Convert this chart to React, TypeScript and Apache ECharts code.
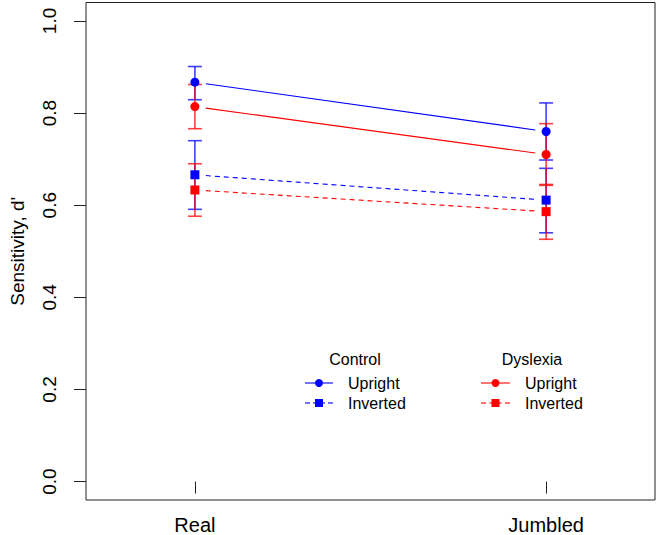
import React, { useEffect, useRef } from "react";
import * as echarts from "echarts";

const categories = ["Real", "Jumbled"];
const categoryX = [1, 2];
const yTicks = [0, 0.2, 0.4, 0.6, 0.8, 1.0];

const controlUpright = [0.867, 0.76];
const controlUprightLo = [0.829, 0.698];
const controlUprightHi = [0.901, 0.822];

const dyslexiaUpright = [0.814, 0.71];
const dyslexiaUprightLo = [0.766, 0.643];
const dyslexiaUprightHi = [0.862, 0.777];

const controlInverted = [0.666, 0.611];
const controlInvertedLo = [0.591, 0.54];
const controlInvertedHi = [0.74, 0.68];

const dyslexiaInverted = [0.633, 0.586];
const dyslexiaInvertedLo = [0.576, 0.526];
const dyslexiaInvertedHi = [0.69, 0.645];

const BLUE = "#0000FF";
const RED = "#FF0000";
const FONT = "'Liberation Sans', Arial, sans-serif";

type Group = {
  name: string;
  mean: number[];
  lo: number[];
  hi: number[];
  color: string;
  symbol: string;
  dashed: boolean;
};

const groups: Group[] = [
  { name: "Control Upright", mean: controlUpright, lo: controlUprightLo, hi: controlUprightHi, color: BLUE, symbol: "circle", dashed: false },
  { name: "Control Inverted", mean: controlInverted, lo: controlInvertedLo, hi: controlInvertedHi, color: BLUE, symbol: "rect", dashed: true },
  { name: "Dyslexia Upright", mean: dyslexiaUpright, lo: dyslexiaUprightLo, hi: dyslexiaUprightHi, color: RED, symbol: "circle", dashed: false },
  { name: "Dyslexia Inverted", mean: dyslexiaInverted, lo: dyslexiaInvertedLo, hi: dyslexiaInvertedHi, color: RED, symbol: "rect", dashed: true },
];

function errorBarSeries(g: Group) {
  return {
    type: "custom",
    name: g.name + " err",
    z: 2,
    data: categoryX.map((x, i) => [x, g.lo[i], g.hi[i]]),
    renderItem: (params: any, api: any) => {
      const lo = api.coord([api.value(0), api.value(1)]);
      const hi = api.coord([api.value(0), api.value(2)]);
      const cw = 7;
      const style = { stroke: g.color, lineWidth: 1.6, opacity: 0.75 };
      return {
        type: "group",
        children: [
          { type: "line", shape: { x1: lo[0], y1: lo[1], x2: hi[0], y2: hi[1] }, style },
          { type: "line", shape: { x1: lo[0] - cw, y1: lo[1], x2: lo[0] + cw, y2: lo[1] }, style },
          { type: "line", shape: { x1: hi[0] - cw, y1: hi[1], x2: hi[0] + cw, y2: hi[1] }, style },
        ],
      };
    },
  };
}

function connectorSeries(g: Group) {
  return {
    type: "custom",
    name: g.name + " line",
    z: 3,
    data: [[categoryX[0], g.mean[0], categoryX[1], g.mean[1]]],
    renderItem: (params: any, api: any) => {
      const p1 = api.coord([api.value(0), api.value(1)]);
      const p2 = api.coord([api.value(2), api.value(3)]);
      const dx = p2[0] - p1[0];
      const dy = p2[1] - p1[1];
      const len = Math.sqrt(dx * dx + dy * dy);
      const gap = 11;
      const ux = dx / len;
      const uy = dy / len;
      return {
        type: "line",
        shape: {
          x1: p1[0] + ux * gap,
          y1: p1[1] + uy * gap,
          x2: p2[0] - ux * gap,
          y2: p2[1] - uy * gap,
        },
        style: { stroke: g.color, lineWidth: 1.1, lineDash: g.dashed ? [5, 4] : null },
      };
    },
  };
}

function markerSeries(g: Group) {
  return {
    type: "scatter",
    name: g.name,
    z: 4,
    symbol: g.symbol,
    symbolSize: 9,
    itemStyle: { color: g.color, opacity: 1 },
    data: categoryX.map((x, i) => [x, g.mean[i]]),
  };
}

function legendGraphics() {
  const items: any[] = [];
  const cols = [
    { title: "Control", titleX: 355, lineX0: 305, lineX1: 333, textX: 348, color: BLUE },
    { title: "Dyslexia", titleX: 532, lineX0: 481, lineX1: 510, textX: 525, color: RED },
  ];
  const rows = [
    { label: "Upright", y: 383, symbol: "circle", dashed: false },
    { label: "Inverted", y: 403, symbol: "rect", dashed: true },
  ];
  cols.forEach((c) => {
    items.push({
      type: "text",
      x: c.titleX,
      y: 359,
      style: { text: c.title, fill: "#000", font: `16px ${FONT}`, align: "center", verticalAlign: "middle" },
    });
    rows.forEach((r) => {
      const mid = (c.lineX0 + c.lineX1) / 2;
      if (r.dashed) {
        items.push({ type: "line", shape: { x1: c.lineX0, y1: r.y, x2: c.lineX0 + 5, y2: r.y }, style: { stroke: c.color, lineWidth: 1.1 } });
        items.push({ type: "line", shape: { x1: c.lineX1 - 5, y1: r.y, x2: c.lineX1, y2: r.y }, style: { stroke: c.color, lineWidth: 1.1 } });
        items.push({ type: "line", shape: { x1: mid - 6, y1: r.y, x2: mid + 6, y2: r.y }, style: { stroke: c.color, lineWidth: 1.1 } });
        items.push({ type: "rect", shape: { x: mid - 4, y: r.y - 4, width: 8, height: 8 }, style: { fill: c.color } });
      } else {
        items.push({ type: "line", shape: { x1: c.lineX0, y1: r.y, x2: c.lineX1, y2: r.y }, style: { stroke: c.color, lineWidth: 1.1 } });
        items.push({ type: "circle", shape: { cx: mid, cy: r.y, r: 4 }, style: { fill: c.color } });
      }
      items.push({
        type: "text",
        x: c.textX,
        y: r.y,
        style: { text: r.label, fill: "#000", font: `16px ${FONT}`, align: "left", verticalAlign: "middle" },
      });
    });
  });
  return items;
}

export default function App() {
  const ref = useRef<HTMLDivElement>(null);

  useEffect(() => {
    if (!ref.current) return;
    const chart = echarts.init(ref.current, undefined, { renderer: "svg" });
    const series: any[] = [];
    groups.forEach((g) => series.push(errorBarSeries(g)));
    groups.forEach((g) => series.push(connectorSeries(g)));
    groups.forEach((g) => series.push(markerSeries(g)));

    chart.setOption({
      animation: false,
      backgroundColor: "#ffffff",
      textStyle: { fontFamily: FONT },
      grid: {
        left: 85.5,
        right: 4,
        top: 2.5,
        bottom: 33.5,
        show: true,
        borderColor: "#222",
        borderWidth: 1,
        backgroundColor: "transparent",
      },
      xAxis: {
        type: "value",
        min: 0.69,
        max: 2.31,
        splitLine: { show: false },
        axisLine: { show: false },
        axisTick: { show: true, inside: false, length: 12, lineStyle: { color: "#222" }, customValues: categoryX },
        axisLabel: {
          show: true,
          fontSize: 20,
          color: "#000",
          fontFamily: FONT,
          margin: 15,
          customValues: categoryX,
          formatter: (v: number) => {
            const idx = categoryX.indexOf(Math.round(v));
            return idx >= 0 ? categories[idx] : "";
          },
        },
      },
      yAxis: {
        type: "value",
        min: -0.04,
        max: 1.04,
        name: "Sensitivity, d'",
        nameLocation: "middle",
        nameRotate: 90,
        nameGap: 59,
        nameTextStyle: { fontSize: 19, color: "#000", fontFamily: FONT },
        splitLine: { show: false },
        axisLine: { show: false },
        axisTick: { show: true, inside: false, length: 12, lineStyle: { color: "#222" }, customValues: yTicks },
        axisLabel: {
          show: true,
          rotate: 90,
          fontSize: 19,
          color: "#000",
          fontFamily: FONT,
          margin: 27,
          customValues: yTicks,
          formatter: (v: number) => v.toFixed(1),
        },
      },
      graphic: legendGraphics(),
      series,
    });
    return () => chart.dispose();
  }, []);

  return (
    <div
      ref={ref}
      style={{ position: "fixed", left: 0, top: 0, width: 659, height: 535, background: "#fff" }}
    />
  );
}
